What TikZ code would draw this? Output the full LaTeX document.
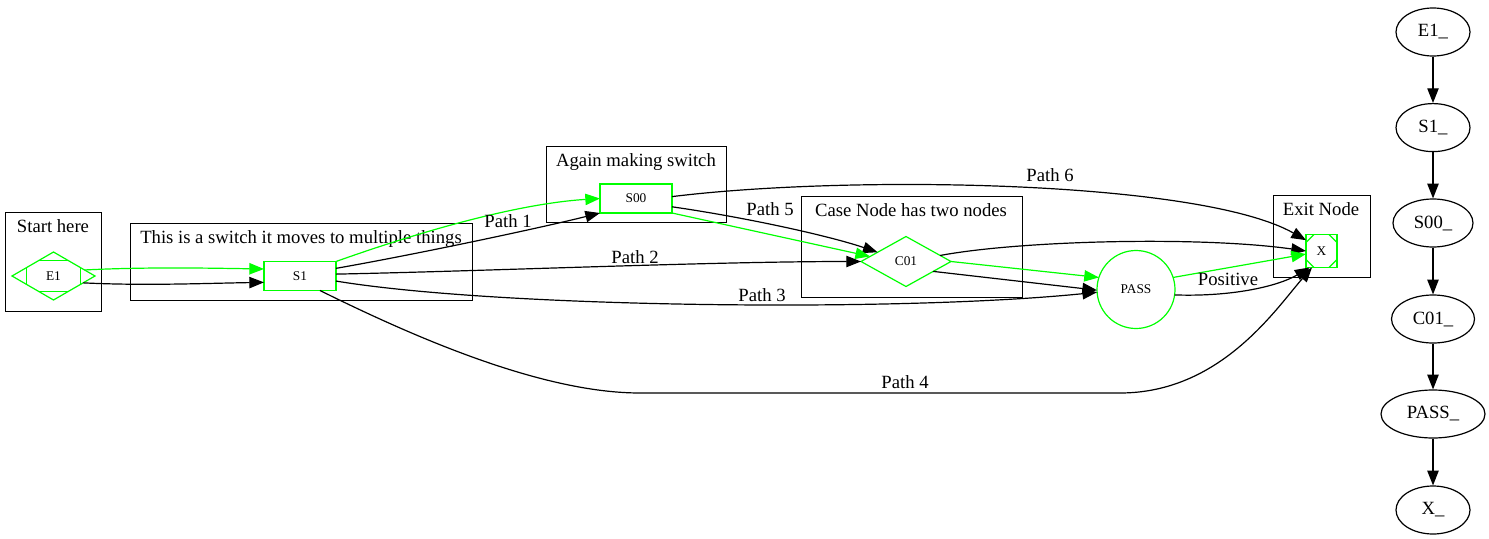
\documentclass[tikz,border=0pt]{standalone}
\usepackage{fontspec}
\setmainfont{Liberation Serif}
\usetikzlibrary{shapes.geometric, arrows.meta, calc}
\definecolor{gvgreen}{RGB}{0,255,0}
\tikzset{
  flow/.style={draw, line width=0.9pt, -{Triangle[length=11pt,width=8.5pt]}},
  gflow/.style={flow, gvgreen},
  cluster/.style={draw, line width=0.7pt},
  lbl/.style={font=\fontsize{14}{16}\selectfont, inner sep=0pt, anchor=base},
  nodefont/.style={font=\fontsize{10}{12}\selectfont},
  swbox/.style={rectangle, draw=gvgreen, line width=0.9pt, nodefont, minimum width=54pt, minimum height=21.75pt, inner sep=0pt, outer sep=0pt},
  casebox/.style={diamond, draw=gvgreen, line width=0.9pt, nodefont, inner sep=0pt, outer sep=0pt},
  seq/.style={ellipse, draw, line width=0.9pt, font=\fontsize{14}{16}\selectfont, inner sep=0pt, minimum height=36pt, minimum width=55.5pt},
}
\begin{document}
\begin{tikzpicture}[x=0.75pt, y=-0.75pt]
\useasboundingbox (0,0) rectangle (1489,539);

% clusters
\draw[cluster] (5,212) rectangle (101,311);
\node[lbl] (tStart) at (53,232.5) {Start here};
\draw[cluster] (130,223) rectangle (472,300);
\node[lbl] (tSwitch) at (301,243.5) {This is a switch it moves to multiple things};
\draw[cluster] (546,146) rectangle (726,222);
\node[lbl] (tAgain) at (636,166) {Again making switch};
\draw[cluster] (801,196) rectangle (1022,297);
\node[lbl] (tCase) at (911,216.5) {Case Node has two nodes};
\draw[cluster] (1273,195) rectangle (1370,277);
\node[lbl] (tExit) at (1321,215.5) {Exit Node};

% main nodes
\node[casebox, minimum width=62.25pt, minimum height=36pt] (E1) at (53.5,276) {E1};
\draw[gvgreen, line width=0.9pt]
  ($(E1.north)!.35!(E1.west)$) -- ($(E1.north)!.35!(E1.east)$)
  ($(E1.south)!.35!(E1.west)$) -- ($(E1.south)!.35!(E1.east)$)
  ($(E1.west)!.35!(E1.north)$) -- ($(E1.west)!.35!(E1.south)$)
  ($(E1.east)!.35!(E1.north)$) -- ($(E1.east)!.35!(E1.south)$);
\node[swbox] (S1) at (300,276) {S1};
\node[swbox] (S00) at (636,198.5) {S00};
\node[casebox, minimum width=67.5pt, minimum height=37.5pt] (C01) at (906,261.5) {C01};
\node[circle, draw=gvgreen, line width=0.9pt, nodefont, minimum size=58.5pt, inner sep=0pt, outer sep=0pt] (PASS) at (1136,289.5) {PASS};
\node[swbox, minimum width=23.25pt, minimum height=24.75pt] (X) at (1321.5,251) {X};
\draw[gvgreen, line width=0.9pt]
  ([yshift=-6pt]X.north west) -- ([xshift=6pt]X.north west)
  ([yshift=-6pt]X.north east) -- ([xshift=-6pt]X.north east)
  ([yshift=6pt]X.south west) -- ([xshift=6pt]X.south west)
  ([yshift=6pt]X.south east) -- ([xshift=-6pt]X.south east);

% edges
\draw[gflow] (E1.11) .. controls +(60,-3) and +(-60,-1) .. (S1.169);
\draw[flow] (E1.-13) .. controls +(60,3) and +(-60,1) .. (S1.190);
\draw[gflow] (S1.north east) .. controls +(90,-32) and +(-80,5) .. (S00.west);
\draw[flow] (S1.12) .. controls +(80,-14) and +(-60,15) .. (S00.south west)
  node[lbl] (p1) at (508,227) {Path 1};
\draw[flow] (S1.3) .. controls +(150,-3) and +(-150,0) .. (C01.west)
  node[lbl] (p2) at (635,263.5) {Path 2};
\draw[flow] (S1.-8) .. controls +(164,27) and +(-197,20) .. (PASS.184)
  node[lbl] (p3) at (762,301.5) {Path 3};
\draw[flow] (S1.-36) .. controls (410,335) and (540,393) .. (640,393) -- (1120,393)
  .. controls (1220,393) and (1275,310) .. (X.-120)
  node[lbl] (p4) at (905,388.5) {Path 4};
\draw[flow] (S00.-13) .. controls +(70,10) and +(-50,-17) .. (C01.162)
  node[lbl] (p5) at (770,215.5) {Path 5};
\draw[gflow] (S00.south east) -- (C01.172);
\draw[flow] (S00.3) .. controls +(178,-22) and +(-106,-60) .. (X.145)
  node[lbl] (p6) at (1050,181.5) {Path 6};
\draw[flow] (C01.10) .. controls +(80,-15) and +(-106,-15) .. (X.west);
\draw[gflow] (C01.east) -- (PASS.162);
\draw[flow] (C01.-20) -- (PASS.181);
\draw[gflow] (PASS.18) -- (X.191);
\draw[flow] (PASS.-8) .. controls +(60,2) and +(-30,18) .. (X.234)
  node[lbl] (p7) at (1228,285.5) {Positive};

% sequence column
\node[seq] (E1s) at (1433,32) {E1\_};
\node[seq] (S1s) at (1433,127.6) {S1\_};
\node[seq, minimum width=60pt] (S00s) at (1433,223) {S00\_};
\node[seq, minimum width=62.25pt] (C01s) at (1433,319) {C01\_};
\node[seq, minimum width=78pt] (PASSs) at (1433,414) {PASS\_};
\node[seq] (Xs) at (1433,510) {X\_};
\foreach \a/\b in {E1s/S1s, S1s/S00s, S00s/C01s, C01s/PASSs, PASSs/Xs}
  \draw[flow] (\a) -- (\b);
\end{tikzpicture}
\end{document}
